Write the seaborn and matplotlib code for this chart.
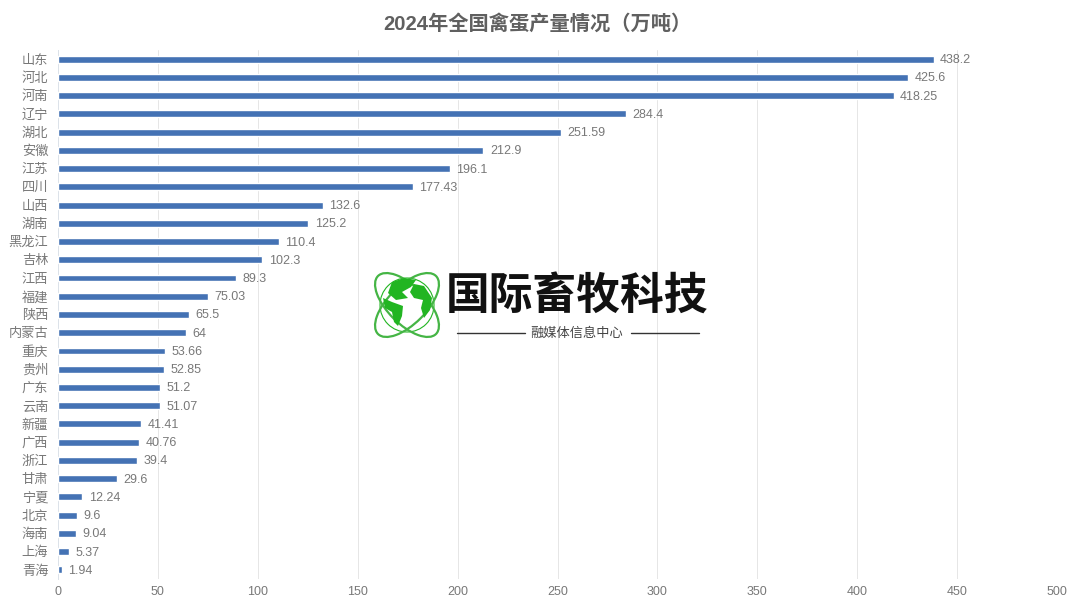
import matplotlib
matplotlib.use('Agg')
import matplotlib.pyplot as plt
from matplotlib.patches import Circle, Ellipse, Polygon
import pandas as pd
import seaborn as sns

# 2024 egg output by province
provinces = ['山东', '河北', '河南', '辽宁', '湖北', '安徽', '江苏', '四川', '山西', '湖南',
             '黑龙江', '吉林', '江西', '福建', '陕西', '内蒙古', '重庆', '贵州', '广东', '云南',
             '新疆', '广西', '浙江', '甘肃', '宁夏', '北京', '海南', '上海', '青海']
output = [438.2, 425.6, 418.25, 284.4, 251.59, 212.9, 196.1, 177.43, 132.6, 125.2,
          110.4, 102.3, 89.3, 75.03, 65.5, 64, 53.66, 52.85, 51.2, 51.07,
          41.41, 40.76, 39.4, 29.6, 12.24, 9.6, 9.04, 5.37, 1.94]
output_labels = ['438.2', '425.6', '418.25', '284.4', '251.59', '212.9', '196.1', '177.43', '132.6', '125.2',
                 '110.4', '102.3', '89.3', '75.03', '65.5', '64', '53.66', '52.85', '51.2', '51.07',
                 '41.41', '40.76', '39.4', '29.6', '12.24', '9.6', '9.04', '5.37', '1.94']
x_ticks = [0, 50, 100, 150, 200, 250, 300, 350, 400, 450, 500]

sns.set_theme(style='white')
plt.rcParams['font.family'] = ['Liberation Sans', 'Noto Sans CJK SC']

df = pd.DataFrame({'province': provinces, 'output': output})

W, H = 1080, 608
fig = plt.figure(figsize=(W / 100, H / 100), dpi=100, facecolor='white')
ax = fig.add_axes([58 / W, 1 - 579 / H, 999 / W, 529 / H])

sns.barplot(data=df, x='output', y='province', color='#4472B4', saturation=1, width=0.38, ax=ax, zorder=3)

ax.set_xlim(0, 500)
ax.set_ylim(len(provinces) - 0.5, -0.5)
ax.set_xticks(x_ticks)
ax.grid(axis='x', color='#E6E6E6', linewidth=0.7)
ax.set_axisbelow(True)
ax.set_xlabel('')
ax.set_ylabel('')
ax.tick_params(axis='x', length=0, labelsize=9, labelcolor='#787878', pad=5)
ax.tick_params(axis='y', length=0, labelsize=9.5, labelcolor='#787878', pad=7)
for side in ['top', 'right', 'bottom']:
    ax.spines[side].set_visible(False)
ax.spines['left'].set_color('#DCE2EA')
ax.spines['left'].set_linewidth(0.7)

for i, val in enumerate(output):
    ax.annotate(output_labels[i], (val, i), xytext=(6.5, -1), textcoords='offset pixels',
                va='center', ha='left', fontsize=9, color='#787878', zorder=5)

fig.text(0.4975, 1 - 23.5 / H, '2024年全国禽蛋产量情况（万吨）', ha='center', va='center',
         fontsize=14.6, fontweight='bold', color='#606060')

# watermark logo, drawn in pixel coordinates
logo = fig.add_axes([0, 0, 1, 1], facecolor='none', zorder=10)
logo.set_xlim(0, W)
logo.set_ylim(H, 0)
logo.axis('off')
green = '#22B522'
logo.add_patch(Circle((407, 305), 27, fc='white', ec=green, lw=0.8))
for angle in [45, -45]:
    logo.add_patch(Ellipse((407, 305), 82, 38, angle=angle, fc='none', ec='#45B545', lw=1.6))
land_shapes = [
    [(392, 282), (404, 278), (416, 280), (411, 287), (402, 292), (408, 298), (396, 300), (388, 293)],
    [(383, 298), (392, 302), (403, 306), (402, 316), (398, 326), (394, 322), (392, 312), (385, 308)],
    [(414, 284), (424, 286), (432, 298), (430, 310), (424, 318), (421, 308), (423, 300), (414, 298), (410, 292)],
]
for shape in land_shapes:
    logo.add_patch(Polygon(shape, closed=True, fc=green, ec='none'))
logo.text(577, 296, '国际畜牧科技', family='Noto Sans CJK SC', ha='center', va='center',
          fontsize=31.5, fontweight='black', color='#111111')
logo.text(577, 333, '融媒体信息中心', family='Noto Sans CJK SC', ha='center', va='center',
          fontsize=9.5, color='#444444')
logo.plot([457, 525], [332.5, 332.5], color='#333333', lw=1)
logo.plot([631, 699], [332.5, 332.5], color='#333333', lw=1)

fig.savefig('out.png', dpi=100)
